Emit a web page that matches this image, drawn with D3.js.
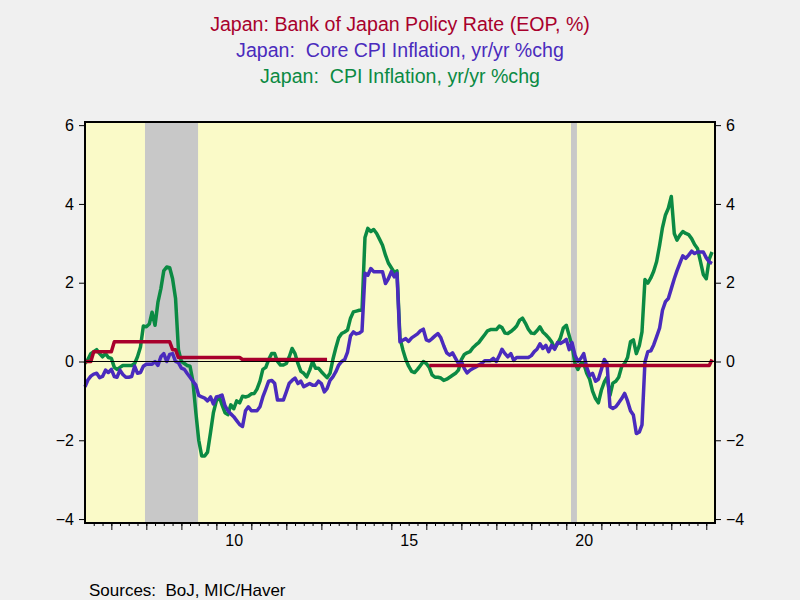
<!DOCTYPE html>
<html><head><meta charset="utf-8">
<script src="https://cdn.jsdelivr.net/npm/d3@7"></script>
<style>
body{margin:0;background:#f0f0f0}
svg{display:block}
text{font-family:Arial,"Liberation Sans",sans-serif;white-space:pre}
</style>
</head><body>
<svg id="chart" width="800" height="600"></svg>
<script>
// ---- data (monthly, Apr 2006 .. Mar 2024) ----
const firstMonth = [2006, 3];   // April 2006 (JS month index)
const lastMonthExcl = [2024, 3]; // up to Mar 2024

const cpi = [
 -0.05, 0.05, 0.2, 0.25, 0.3, 0.2, 0.12, 0.2, 0.1, 0.08, -0.15, -0.2,
 -0.15, -0.1, -0.1, -0.1, -0.1, -0.05, 0.12, 0.37, 0.9, 0.88, 0.95, 1.25,
 0.92, 1.5, 1.85, 2.3, 2.4, 2.38, 2.1, 1.6, 0.3, 0.0, -0.05, -0.1,
 -0.12, -0.5, -1.3, -2.0, -2.4, -2.4, -2.3, -1.8, -1.3, -1.0, -0.9, -1.1,
 -1.3, -1.35, -1.1, -1.2, -1.0, -1.05, -0.88, -0.9, -0.88, -0.82, -0.81, -0.7,
 -0.5, -0.2, -0.15, 0.05, 0.2, 0.2, 0.0, -0.09, -0.09, -0.05, 0.12, 0.33,
 0.2, -0.05, -0.25, -0.3, -0.39, -0.22, 0.0, -0.17, -0.17, -0.26, -0.34, -0.41,
 -0.3, 0.05, 0.35, 0.6, 0.71, 0.75, 0.8, 1.1, 1.26, 1.28, 1.3, 1.3,
 3.15, 3.38, 3.3, 3.35, 3.25, 3.1, 2.95, 2.7, 2.5, 2.38, 2.26, 2.3,
 0.6, 0.3, 0.05, -0.12, -0.25, -0.28, -0.2, -0.1, 0.0, -0.05, -0.15, -0.34,
 -0.4, -0.4, -0.42, -0.48, -0.45, -0.4, -0.35, -0.3, -0.22, 0.05, 0.18, 0.22,
 0.25, 0.35, 0.42, 0.48, 0.58, 0.68, 0.78, 0.81, 0.81, 0.81, 0.9, 0.86,
 0.72, 0.71, 0.76, 0.82, 0.9, 1.05, 1.1, 0.97, 0.82, 0.72, 0.71, 0.78,
 0.88, 0.75, 0.68, 0.6, 0.5, 0.33, 0.45, 0.6, 0.85, 0.92, 0.65, 0.4,
 -0.05, -0.2, -0.05, -0.05, -0.3, -0.45, -0.75, -0.94, -1.05, -0.73, -0.52, -0.4,
 -0.86, -0.55, -0.5, -0.4, -0.13, -0.05, 0.1, 0.5, 0.55, 0.2, 0.4, 0.75,
 2.08, 1.99, 2.12, 2.29, 2.54, 2.95, 3.4, 3.72, 3.89, 4.19, 3.25, 3.08,
 3.21, 3.3, 3.25, 3.22, 3.12, 2.97, 2.87, 2.54, 2.21, 2.1, 2.6, 2.78
];

const core = [
 -0.64, -0.47, -0.37, -0.32, -0.3, -0.41, -0.38, -0.22, -0.28, -0.2, -0.38, -0.4,
 -0.22, -0.33, -0.4, -0.4, -0.38, -0.12, -0.3, -0.28, -0.12, -0.07, -0.07, -0.07,
 0.0, -0.1, 0.12, 0.2, 0.0, 0.18, 0.2, 0.0, -0.03, -0.17, -0.2, -0.3,
 -0.4, -0.5, -0.6, -0.86, -0.9, -0.93, -1.0, -0.9, -1.08, -0.9, -0.88, -0.85,
 -1.12, -1.25, -1.33, -1.4, -1.5, -1.6, -1.65, -1.25, -1.15, -1.25, -1.25, -1.25,
 -1.15, -0.9, -0.7, -0.5, -0.48, -0.55, -0.98, -0.98, -0.98, -0.77, -0.55, -0.48,
 -0.42, -0.56, -0.5, -0.64, -0.6, -0.56, -0.6, -0.6, -0.5, -0.56, -0.77, -0.69,
 -0.48, -0.39, -0.26, -0.09, 0.0, 0.05, 0.24, 0.65, 0.75, 0.7, 0.72, 0.77,
 2.24, 2.19, 2.36, 2.28, 2.28, 2.28, 2.28, 1.98, 2.1, 2.28, 2.15, 2.24,
 0.5, 0.54, 0.58, 0.51, 0.6, 0.65, 0.7, 0.78, 0.82, 0.55, 0.52, 0.58,
 0.65, 0.71, 0.6, 0.4, 0.22, 0.16, 0.22, 0.08, -0.05, 0.0, -0.18, -0.29,
 -0.22, -0.18, -0.14, -0.09, -0.05, 0.02, 0.02, 0.02, 0.08, 0.0, 0.15, 0.31,
 0.2, 0.12, 0.2, 0.03, 0.1, 0.1, 0.1, 0.1, 0.1, 0.15, 0.25, 0.31,
 0.45, 0.33, 0.41, 0.25, 0.41, 0.31, 0.48, 0.46, 0.5, 0.56, 0.3, 0.48,
 0.16, 0.0, 0.08, 0.2, -0.14, -0.36, -0.3, -0.5, -0.45, -0.2, 0.05, -0.05,
 -1.15, -1.19, -1.15, -1.05, -0.94, -0.81, -1.0, -1.25, -1.36, -1.83, -1.79, -1.61,
 -0.01, 0.25, 0.27, 0.42, 0.63, 0.85, 1.3, 1.52, 1.6, 1.85, 2.1, 2.3,
 2.5, 2.68, 2.62, 2.7, 2.8, 2.74, 2.78, 2.78, 2.78, 2.63, 2.53, 2.49
];

const rate = [
 0, 0, 0, 0.25, 0.25, 0.25, 0.25, 0.25, 0.25, 0.25, 0.5, 0.5,
 0.5, 0.5, 0.5, 0.5, 0.5, 0.5, 0.5, 0.5, 0.5, 0.5, 0.5, 0.5,
 0.5, 0.5, 0.5, 0.5, 0.5, 0.5, 0.3, 0.3, 0.1, 0.1, 0.1, 0.1,
 0.1, 0.1, 0.1, 0.1, 0.1, 0.1, 0.1, 0.1, 0.1, 0.1, 0.1, 0.1,
 0.1, 0.1, 0.1, 0.1, 0.1, 0.1, 0.05, 0.05, 0.05, 0.05, 0.05, 0.05,
 0.05, 0.05, 0.05, 0.05, 0.05, 0.05, 0.05, 0.05, 0.05, 0.05, 0.05, 0.05,
 0.05, 0.05, 0.05, 0.05, 0.05, 0.05, 0.05, 0.05, 0.05, 0.05, 0.05, 0.05,
 null, null, null, null, null, null, null, null, null, null, null, null,
 null, null, null, null, null, null, null, null, null, null, null, null,
 null, null, null, null, null, null, null, null, null, null, -0.1, -0.1,
 -0.1, -0.1, -0.1, -0.1, -0.1, -0.1, -0.1, -0.1, -0.1, -0.1, -0.1, -0.1,
 -0.1, -0.1, -0.1, -0.1, -0.1, -0.1, -0.1, -0.1, -0.1, -0.1, -0.1, -0.1,
 -0.1, -0.1, -0.1, -0.1, -0.1, -0.1, -0.1, -0.1, -0.1, -0.1, -0.1, -0.1,
 -0.1, -0.1, -0.1, -0.1, -0.1, -0.1, -0.1, -0.1, -0.1, -0.1, -0.1, -0.1,
 -0.1, -0.1, -0.1, -0.1, -0.1, -0.1, -0.1, -0.1, -0.1, -0.1, -0.1, -0.1,
 -0.1, -0.1, -0.1, -0.1, -0.1, -0.1, -0.1, -0.1, -0.1, -0.1, -0.1, -0.1,
 -0.1, -0.1, -0.1, -0.1, -0.1, -0.1, -0.1, -0.1, -0.1, -0.1, -0.1, -0.1,
 -0.1, -0.1, -0.1, -0.1, -0.1, -0.1, -0.1, -0.1, -0.1, -0.1, -0.1, 0.05
];

const recessions = [["2007-12-18", "2009-06-24"], ["2020-02-19", "2020-04-21"]];
const yTicks = [-4, -2, 0, 2, 4, 6];
const xLabelYears = [2010, 2015, 2020];
const titles = [
  {text: "Japan: Bank of Japan Policy Rate (EOP, %)", color: "#a8002c"},
  {text: "Japan:  Core CPI Inflation, yr/yr %chg", color: "#4a2bbd"},
  {text: "Japan:  CPI Inflation, yr/yr %chg", color: "#0b8a43"}
];
const sourceText = "Sources:  BoJ, MIC/Haver";

// ---- layout ----
const L = 85, R = 715, T = 122, B = 523;
const svg = d3.select("#chart");
const months = d3.timeMonth.range(new Date(firstMonth[0], firstMonth[1], 1), new Date(lastMonthExcl[0], lastMonthExcl[1], 1));

const x = d3.scaleTime()
  .domain([new Date(firstMonth[0], firstMonth[1], 1), new Date(lastMonthExcl[0], lastMonthExcl[1], 1)])
  .range([L, R]);
const y = d3.scaleLinear().domain([-4.1, 6.08]).range([B, T]);

// plot background
svg.append("rect").attr("x", L).attr("y", T).attr("width", R - L).attr("height", B - T).attr("fill", "#fafac8");

// recession bars
svg.selectAll("rect.rec").data(recessions).enter().append("rect")
  .attr("class", "rec")
  .attr("x", d => x(new Date(d[0])))
  .attr("width", d => x(new Date(d[1])) - x(new Date(d[0])))
  .attr("y", T).attr("height", B - T)
  .attr("fill", "#c8c8c8");

// lines
const mk = vals => months.map((m, i) => ({date: m, v: vals[i]}));
const line = d3.line().defined(d => d.v != null).x(d => x(d.date)).y(d => y(d.v));
const series = [
  {vals: cpi, color: "#0b8a43"},
  {vals: core, color: "#4a2bbd"},
  {vals: rate, color: "#a8002c"}
];
series.forEach(s => {
  svg.append("path").datum(mk(s.vals))
    .attr("d", line)
    .attr("fill", "none")
    .attr("stroke", s.color)
    .attr("stroke-width", 3.5)
    .attr("stroke-linejoin", "round");
});

// zero line
svg.append("line").attr("x1", L).attr("x2", R).attr("y1", y(0)).attr("y2", y(0))
  .attr("stroke", "#000").attr("stroke-width", 1);

// frame
svg.append("rect").attr("x", L).attr("y", T).attr("width", R - L).attr("height", B - T)
  .attr("fill", "none").attr("stroke", "#000").attr("stroke-width", 2);

// axes
const styleAxis = g => {
  g.select(".domain").remove();
  g.selectAll("line").attr("stroke", "#000");
  g.selectAll("text").attr("font-size", 16).attr("fill", "#000")
    .attr("font-family", "Arial, 'Liberation Sans', sans-serif");
};
svg.append("g").attr("transform", `translate(${L},0)`)
  .call(d3.axisLeft(y).tickValues(yTicks).tickSize(6).tickPadding(5).tickFormat(d3.format("d")))
  .call(styleAxis);
svg.append("g").attr("transform", `translate(${R},0)`)
  .call(d3.axisRight(y).tickValues(yTicks).tickSize(6).tickPadding(5).tickFormat(d3.format("d")))
  .call(styleAxis);

const xDomain = x.domain();
svg.append("g").attr("transform", `translate(0,${B})`)
  .call(d3.axisBottom(x).tickValues(d3.timeMonth.every(3).range(xDomain[0], xDomain[1]).filter(d => d > xDomain[0])).tickSize(3).tickFormat(""))
  .call(styleAxis);
svg.append("g").attr("transform", `translate(0,${B})`)
  .call(d3.axisBottom(x).tickValues(d3.timeYear.range(xDomain[0], xDomain[1])).tickSize(7).tickFormat(""))
  .call(styleAxis);
svg.append("g").attr("transform", `translate(0,${B})`)
  .call(d3.axisBottom(x).tickValues(xLabelYears.map(yr => new Date(yr, 6, 1))).tickSize(0).tickPadding(12)
    .tickFormat(d => d3.timeFormat("%y")(d)))
  .call(styleAxis);

// titles
svg.selectAll("text.title").data(titles).enter().append("text")
  .attr("class", "title")
  .attr("x", 400).attr("y", (d, i) => 31 + i * 25.8)
  .attr("text-anchor", "middle")
  .attr("font-size", 19.6)
  .attr("fill", d => d.color)
  .text(d => d.text);

svg.append("text").attr("x", 89).attr("y", 596).attr("font-size", 17).attr("fill", "#000").text(sourceText);
</script>
</body></html>
